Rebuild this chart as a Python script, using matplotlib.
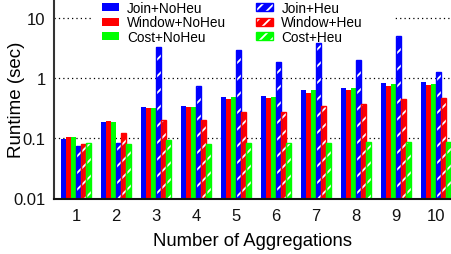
#!/usr/bin/env python3
"""Runtime vs number of aggregations, with and without the heuristic."""

import matplotlib

matplotlib.use("Agg")
import matplotlib.pyplot as plt
import numpy as np
from matplotlib.patches import Patch, Rectangle
from matplotlib.ticker import FixedLocator, NullLocator

groups = [1, 2, 3, 4, 5, 6, 7, 8, 9, 10]

join_noheu = [0.098, 0.187, 0.333, 0.342, 0.49, 0.50, 0.64, 0.69, 0.84, 0.88]
window_noheu = [0.105, 0.195, 0.317, 0.33, 0.46, 0.47, 0.58, 0.63, 0.74, 0.77]
cost_noheu = [0.105, 0.19, 0.32, 0.333, 0.48, 0.49, 0.63, 0.68, 0.79, 0.80]
join_heu = [0.074, 0.085, 3.28, 0.74, 2.99, 1.85, 3.82, 1.99, 5.0, 1.27]
window_heu = [0.082, 0.123, 0.20, 0.20, 0.27, 0.28, 0.35, 0.38, 0.45, 0.47]
cost_heu = [0.083, 0.080, 0.093, 0.081, 0.083, 0.083, 0.084, 0.086, 0.086, 0.088]

labels = ["Join+NoHeu", "Window+NoHeu", "Cost+NoHeu", "Join+Heu", "Window+Heu", "Cost+Heu"]
yticks = [0.01, 0.1, 1, 10]
ytick_labels = ["0.01", "0.1", "1", "10"]

BLUE = "#0000ff"
RED = "#ff0000"
GREEN = "#00ff00"

plt.rcParams["font.family"] = ["Liberation Sans", "DejaVu Sans"]
plt.rcParams["hatch.linewidth"] = 1.3


def main() -> None:
    fig = plt.figure(figsize=(4.51, 2.55), dpi=100)
    ax = fig.add_axes([54 / 451, 55.5 / 255, 397 / 451, 199.5 / 255])

    x = np.array(groups, dtype=float)
    width = 0.125
    series = [
        (join_noheu, BLUE, False),
        (window_noheu, RED, False),
        (cost_noheu, GREEN, False),
        (join_heu, BLUE, True),
        (window_heu, RED, True),
        (cost_heu, GREEN, True),
    ]
    handles = []
    for i, (vals, color, hatched) in enumerate(series):
        pos = x + (i - 2.5) * width
        if hatched:
            ax.bar(pos, vals, width, color=color, edgecolor="white",
                   hatch="//", linewidth=0, zorder=3)
            ax.bar(pos, vals, width, fill=False, edgecolor=color,
                   linewidth=1.0, zorder=4)
            h = (Patch(facecolor=color, edgecolor="white", hatch="///", linewidth=0),
                 Patch(fill=False, edgecolor=color, linewidth=1.0))
        else:
            ax.bar(pos, vals, width, color=color, linewidth=0, zorder=3)
            h = Patch(facecolor=color, linewidth=0)
        handles.append(h)

    ax.set_yscale("log")
    ax.set_ylim(0.01, 20.9)
    ax.set_xlim(0.45, 10.375)
    ax.yaxis.set_major_locator(FixedLocator(yticks))
    ax.yaxis.set_minor_locator(NullLocator())
    ax.set_yticklabels(ytick_labels)
    ax.set_xticks(groups)
    ax.set_xticklabels([str(g) for g in groups])
    ax.tick_params(axis="both", length=0, labelsize=12, colors="#111111")
    ax.tick_params(axis="y", pad=6)
    ax.tick_params(axis="x", pad=7)

    for y in yticks[1:]:
        ax.axhline(y, color="black", linewidth=0.9, linestyle=(0, (1, 2.5)), zorder=1)

    for side in ("top", "right"):
        ax.spines[side].set_visible(False)
    ax.spines["left"].set_linewidth(1.5)
    ax.spines["left"].set_color("#333333")
    ax.spines["bottom"].set_linewidth(1.5)
    ax.spines["bottom"].set_color("#111111")
    ax.spines["bottom"].set_zorder(5)

    ax.set_xlabel("Number of Aggregations", fontsize=13.3, labelpad=6)
    ax.set_ylabel("Runtime (sec)", fontsize=13.5)
    ax.yaxis.set_label_coords(-0.072, 0.5)

    # white key box hides the grid line behind the legend
    ax.add_patch(Rectangle((92 / 451, 1 - 38 / 255), 301 / 451, 38 / 255,
                           transform=fig.transFigure, facecolor="white",
                           edgecolor="none", zorder=2, clip_on=False))
    leg = fig.legend(handles, labels, ncol=2, loc="upper left",
                     bbox_to_anchor=(102 / 451, 0.993), fontsize=9.8,
                     frameon=False, borderpad=0, borderaxespad=0,
                     handlelength=1.25, handleheight=0.55, handletextpad=0.6,
                     columnspacing=2.2, labelspacing=0.05)
    leg.set_zorder(7)

    fig.savefig("out.png", dpi=100)


if __name__ == "__main__":
    main()
